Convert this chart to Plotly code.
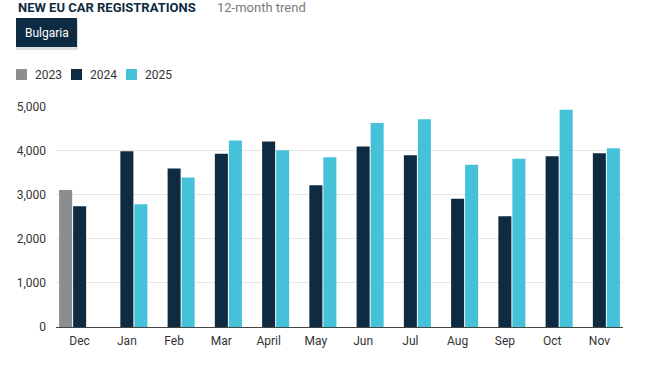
import plotly.graph_objects as go

months = ["Dec", "Jan", "Feb", "Mar", "April", "May", "Jun", "Jul", "Aug", "Sep", "Oct", "Nov"]
years = ["2023", "2024", "2025"]
v2023 = [3105, None, None, None, None, None, None, None, None, None, None, None]
v2024 = [2737, 3985, 3594, 3925, 4203, 3211, 4090, 3895, 2910, 2511, 3872, 3940]
v2025 = [None, 2782, 3391, 4226, 4008, 3850, 4624, 4707, 3677, 3812, 4925, 4053]
y_ticks = [0, 1000, 2000, 3000, 4000, 5000]

colors = ["#8b8d8f", "#0e2b41", "#46c1da"]
series = [v2023, v2024, v2025]

W, H = 650, 365
L, R, T, B = 56, 27, 106, 38
PW, PH = W - L - R, H - T - B


def px(x):
    return (x - L) / PW


def py(y):
    return (H - B - y) / PH


fig = go.Figure()
for name, vals, col in zip(years, series, colors):
    fig.add_trace(go.Bar(x=months, y=vals, name=name, marker_color=col,
                         marker_line_width=0, showlegend=False))

shapes = []
annotations = []

# title
annotations.append(dict(x=px(16), y=py(7), xref="paper", yref="paper", xanchor="left", yanchor="middle",
                        text="<b>NEW EU CAR REGISTRATIONS</b>", showarrow=False,
                        font=dict(family="Roboto", size=13, color="#0e2b41")))
annotations.append(dict(x=px(215), y=py(7), xref="paper", yref="paper", xanchor="left", yanchor="middle",
                        text="12-month trend", showarrow=False,
                        font=dict(family="Roboto", size=13, color="#7a7a7a")))

# button
shapes.append(dict(type="rect", xref="paper", yref="paper", x0=px(16), x1=px(78), y0=py(20), y1=py(50),
                   fillcolor="rgba(0,0,0,0.12)", line_width=0, layer="above"))
shapes.append(dict(type="rect", xref="paper", yref="paper", x0=px(16), x1=px(77), y0=py(18), y1=py(47),
                   fillcolor="#0e2b41", line_width=0, layer="above"))
annotations.append(dict(x=px(46.5), y=py(32.5), xref="paper", yref="paper", xanchor="center", yanchor="middle",
                        text="Bulgaria", showarrow=False,
                        font=dict(family="Roboto", size=12, color="white")))

# legend
leg_sq = [16, 71, 126]
for name, col, x0 in zip(years, colors, leg_sq):
    shapes.append(dict(type="rect", xref="paper", yref="paper", x0=px(x0), x1=px(x0 + 11),
                       y0=py(69), y1=py(80), fillcolor=col, line_width=0))
    annotations.append(dict(x=px(x0 + 17), y=py(74.5), xref="paper", yref="paper", xanchor="left",
                            yanchor="middle", text=name, showarrow=False,
                            font=dict(family="Roboto", size=12, color="#333333")))

fig.update_layout(
    width=W, height=H,
    margin=dict(l=L, r=R, t=T, b=B, pad=0),
    paper_bgcolor="white", plot_bgcolor="white",
    barmode="group", bargap=0.11, bargroupgap=0.07,
    font=dict(family="Roboto", size=12, color="#333333"),
    shapes=shapes, annotations=annotations,
    xaxis=dict(showgrid=False, showline=True, linecolor="#444444", linewidth=1,
               tickfont=dict(family="Roboto", size=12, color="#333333"),
               ticks="", ticklabelstandoff=3, fixedrange=True),
    yaxis=dict(range=[0, 5010], tickvals=y_ticks, tickformat=",",
               showgrid=True, gridcolor="#e6e6e6", gridwidth=1, zeroline=False,
               showline=False, ticks="", ticklabelstandoff=9, fixedrange=True,
               tickfont=dict(family="Roboto", size=12, color="#333333")),
)

fig.write_html("out.html", config={"displayModeBar": False},
               post_script="document.body.style.margin='0px';")
